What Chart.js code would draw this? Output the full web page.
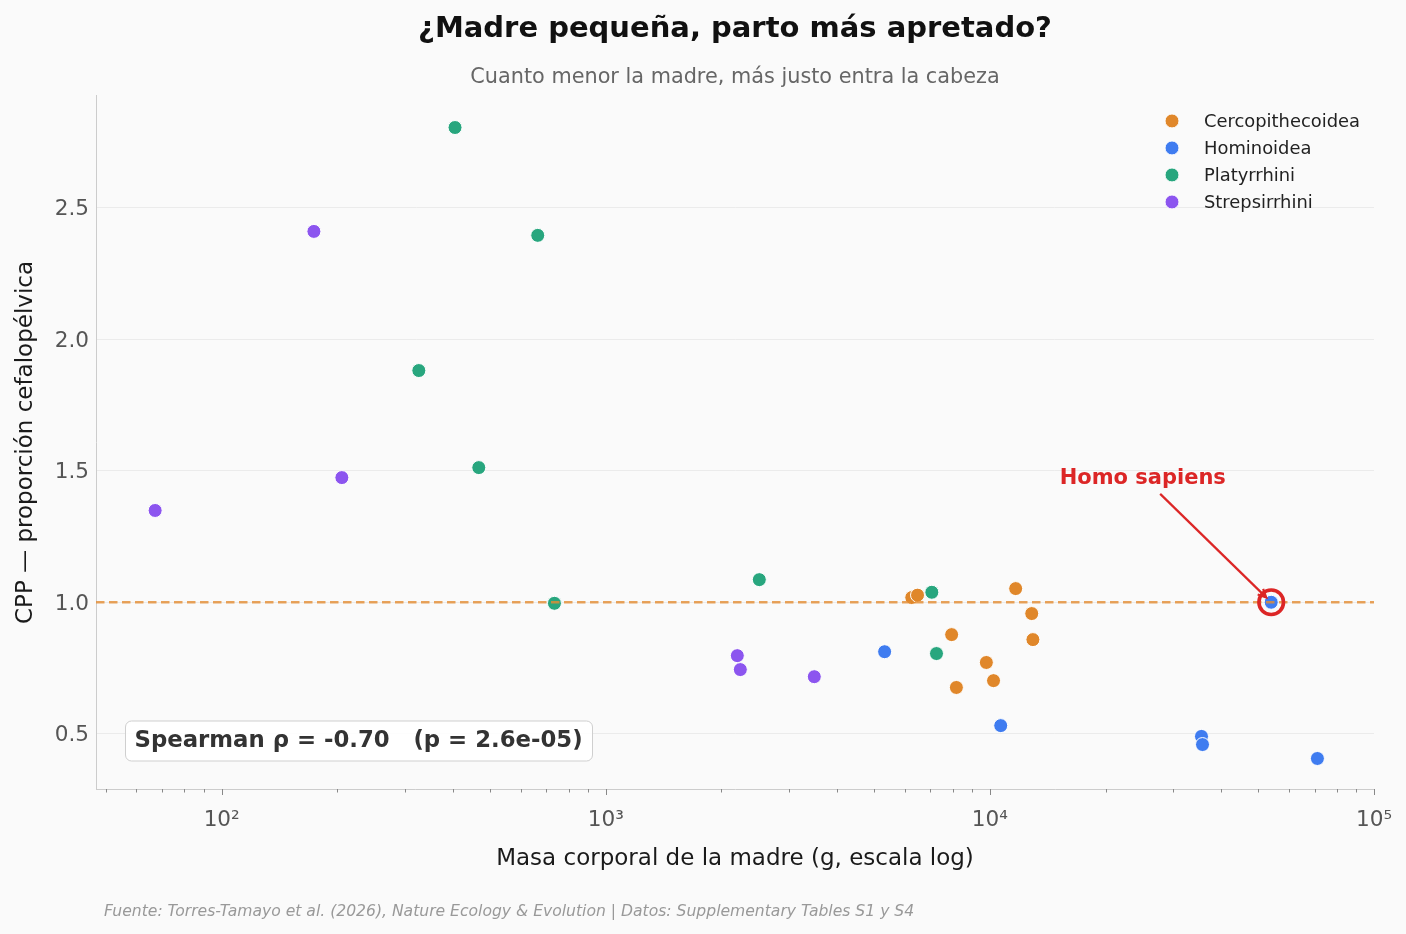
<!DOCTYPE html>
<html><head><meta charset="utf-8">
<script src="https://cdn.jsdelivr.net/npm/chart.js@4.4.1/dist/chart.umd.min.js"></script>
<style>html,body{margin:0;padding:0;background:#fafafa;}canvas{display:block;}</style>
</head><body>
<canvas id="c" width="1406" height="934"></canvas>
<script>
// ---- data ----
const groups = ['Cercopithecoidea', 'Hominoidea', 'Platyrrhini', 'Strepsirrhini'];

const cercoMass = [6260, 6480, 7950, 8180, 9790, 10220, 11670, 12850, 12940];
const cercoCPP  = [1.018, 1.027, 0.877, 0.676, 0.771, 0.702, 1.052, 0.957, 0.858];

const homMass = [5320, 10670, 35550, 35770, 54000, 71230];
const homCPP  = [0.812, 0.531, 0.490, 0.459, 1.000, 0.406];

const platMass = [326, 405, 467, 665, 735, 2510, 7060, 7260];
const platCPP  = [1.881, 2.805, 1.512, 2.395, 0.996, 1.086, 1.038, 0.805];

const strepMass = [67.1, 173.8, 205.5, 2200, 2240, 3490];
const strepCPP  = [1.349, 2.410, 1.474, 0.797, 0.744, 0.717];

const homoIndex = 4;               // Homo sapiens inside the Hominoidea arrays
const homoLabel = 'Homo sapiens';
const spearmanText = 'Spearman ρ = -0.70   (p = 2.6e-05)';
const referenceCPP = 1.0;

const xMajorTicks = [100, 1000, 10000, 100000];
const xTickLabels = ['10²', '10³', '10⁴', '10⁵'];
const xMinorTicks = [50, 60, 70, 80, 90,
  200, 300, 400, 500, 600, 700, 800, 900,
  2000, 3000, 4000, 5000, 6000, 7000, 8000, 9000,
  20000, 30000, 40000, 50000, 60000, 70000, 80000, 90000];
const yTicks = [0.5, 1.0, 1.5, 2.0, 2.5];

const colors = ['#e0872a', '#3f7cf0', '#28a67e', '#8c55ef'];

// ---- build datasets ----
function pts(xs, ys) { return xs.map((x, i) => ({x: x, y: ys[i]})); }
const seriesData = [pts(cercoMass, cercoCPP), pts(homMass, homCPP), pts(platMass, platCPP), pts(strepMass, strepCPP)];
const datasets = groups.map((g, i) => ({
  label: g,
  data: seriesData[i],
  backgroundColor: colors[i],
  borderColor: '#ffffff',
  borderWidth: 1,
  pointRadius: 7,
  pointHoverRadius: 7
}));

const FONT = "'DejaVu Sans', 'Liberation Sans', sans-serif";

const decor = {
  id: 'decor',
  afterDatasetsDraw(chart) {
    const {ctx, chartArea: ca, scales: {x, y}} = chart;
    ctx.save();
    // reference line at CPP = 1
    const yr = y.getPixelForValue(referenceCPP);
    ctx.beginPath();
    ctx.setLineDash([8.5, 4.5]);
    ctx.strokeStyle = 'rgba(228,140,50,0.8)';
    ctx.lineWidth = 2.3;
    ctx.moveTo(ca.left, yr); ctx.lineTo(ca.right, yr);
    ctx.stroke();
    ctx.setLineDash([]);

    // Homo sapiens ring + arrow + label
    const hx = x.getPixelForValue(homMass[homoIndex]);
    const hy = y.getPixelForValue(homCPP[homoIndex]);
    const red = '#dc2626';
    ctx.beginPath();
    ctx.strokeStyle = red; ctx.lineWidth = 3.6;
    ctx.arc(hx, hy, 12.3, 0, Math.PI * 2);
    ctx.stroke();

    const tx = x.getPixelForValue(25000), ty = y.getPixelForValue(1.45);
    ctx.font = 'bold 21px ' + FONT;
    ctx.fillStyle = red; ctx.textAlign = 'center'; ctx.textBaseline = 'alphabetic';
    ctx.fillText(homoLabel, tx, ty);
    const cy = ty - 7;
    const dx = hx - tx, dy = hy - cy, len = Math.hypot(dx, dy);
    const ux = dx / len, uy = dy / len;
    const sx = tx + ux * (17 / uy), sy = cy + 17;
    const ex = hx - ux * 7, ey = hy - uy * 7;
    ctx.beginPath(); ctx.lineWidth = 2.2; ctx.strokeStyle = red;
    ctx.moveTo(sx, sy); ctx.lineTo(ex, ey); ctx.stroke();
    const ang = Math.atan2(uy, ux), hl = 9, ha = 0.45;
    ctx.beginPath();
    ctx.moveTo(ex - hl * Math.cos(ang - ha), ey - hl * Math.sin(ang - ha));
    ctx.lineTo(ex, ey);
    ctx.lineTo(ex - hl * Math.cos(ang + ha), ey - hl * Math.sin(ang + ha));
    ctx.stroke();

    // Spearman box
    const bx = ca.left + 29.5, by = ca.bottom - 68, bw = 467, bh = 40;
    ctx.beginPath();
    ctx.roundRect(bx, by, bw, bh, 6);
    ctx.fillStyle = 'rgba(255,255,255,0.9)'; ctx.fill();
    ctx.strokeStyle = '#cfcfcf'; ctx.lineWidth = 1; ctx.stroke();
    ctx.font = 'bold 22.8px ' + FONT;
    ctx.fillStyle = '#333333'; ctx.textAlign = 'left'; ctx.textBaseline = 'middle';
    ctx.fillText(spearmanText, bx + 9, by + bh / 2 + 0.5);

    // legend
    ctx.font = '17.9px ' + FONT;
    chart.data.datasets.forEach((ds, i) => {
      const ly = ca.top + 25 + i * 27;
      ctx.beginPath();
      ctx.arc(1172, ly, 7, 0, Math.PI * 2);
      ctx.fillStyle = ds.backgroundColor; ctx.fill();
      ctx.strokeStyle = '#ffffff'; ctx.lineWidth = 1; ctx.stroke();
      ctx.fillStyle = '#222222'; ctx.textAlign = 'left'; ctx.textBaseline = 'middle';
      ctx.fillText(ds.label, 1204, ly + 1);
    });

    // x tick marks (major longer than minor)
    ctx.strokeStyle = '#888888'; ctx.lineWidth = 1;
    x.ticks.forEach(t => {
      const px = Math.round(x.getPixelForValue(t.value)) + 0.5;
      const l = t.major ? 6 : 3.5;
      ctx.beginPath(); ctx.moveTo(px, ca.bottom); ctx.lineTo(px, ca.bottom + l); ctx.stroke();
    });

    // footer
    ctx.font = 'italic 15.6px ' + FONT;
    ctx.fillStyle = '#999999'; ctx.textAlign = 'left'; ctx.textBaseline = 'alphabetic';
    ctx.fillText('Fuente: Torres-Tamayo et al. (2026), Nature Ecology & Evolution | Datos: Supplementary Tables S1 y S4', 104, 916);
    ctx.restore();
  }
};

const bg = {
  id: 'bg',
  beforeDraw(chart) {
    const ctx = chart.ctx;
    ctx.save(); ctx.fillStyle = '#fafafa'; ctx.fillRect(0, 0, chart.width, chart.height); ctx.restore();
  }
};

new Chart(document.getElementById('c'), {
  type: 'scatter',
  data: {datasets: datasets},
  options: {
    responsive: false,
    animation: false,
    events: [],
    devicePixelRatio: 1,
    layout: {padding: {left: 0, right: 32, top: 0, bottom: 0}},
    plugins: {
      legend: {display: false},
      tooltip: {enabled: false},
      title: {
        display: true, fullSize: false,
        text: '¿Madre pequeña, parto más apretado?',
        color: '#111111',
        font: {family: FONT, size: 29, weight: 'bold'},
        padding: {top: 12.2, bottom: 18.2}
      },
      subtitle: {
        display: true, fullSize: false,
        text: 'Cuanto menor la madre, más justo entra la cabeza',
        color: '#666666',
        font: {family: FONT, size: 20.8},
        padding: {top: 0, bottom: 5.8}
      }
    },
    scales: {
      x: {
        type: 'logarithmic',
        min: 47.07, max: 100000,
        afterBuildTicks: s => {
          const all = xMinorTicks.concat(xMajorTicks).sort((a, b) => a - b);
          s.ticks = all.map(v => ({value: v, major: xMajorTicks.includes(v)}));
        },
        afterFit: s => { s.height = 145; s.paddingLeft = 0; s.paddingRight = 0; },
        ticks: {
          autoSkip: false, maxRotation: 0, minRotation: 0,
          padding: 18, color: '#555555',
          font: {family: FONT, size: 21.6},
          callback: v => { const k = xMajorTicks.indexOf(v); return k >= 0 ? xTickLabels[k] : ''; }
        },
        grid: {display: true, drawOnChartArea: false, drawTicks: false},
        border: {display: true, color: '#cccccc', width: 1},
        title: {
          display: true, text: 'Masa corporal de la madre (g, escala log)',
          color: '#1a1a1a', font: {family: FONT, size: 23},
          padding: {top: 0, bottom: 61}
        }
      },
      y: {
        type: 'linear',
        min: 0.29, max: 2.925,
        afterBuildTicks: s => { s.ticks = yTicks.map(v => ({value: v})); },
        afterFit: s => { s.width = 96; s.paddingTop = 0; s.paddingBottom = 0; },
        ticks: {
          padding: 7, color: '#555555', labelOffset: 2,
          font: {family: FONT, size: 21.6},
          callback: v => v.toFixed(1)
        },
        grid: {color: '#ebebeb', lineWidth: 1, drawTicks: false},
        border: {display: true, color: '#cccccc', width: 1},
        title: {
          display: true, text: 'CPP — proporción cefalopélvica',
          color: '#1a1a1a', font: {family: FONT, size: 23},
          padding: {top: 12, bottom: 0}
        }
      }
    }
  },
  plugins: [bg, decor]
});
</script>
</body></html>
